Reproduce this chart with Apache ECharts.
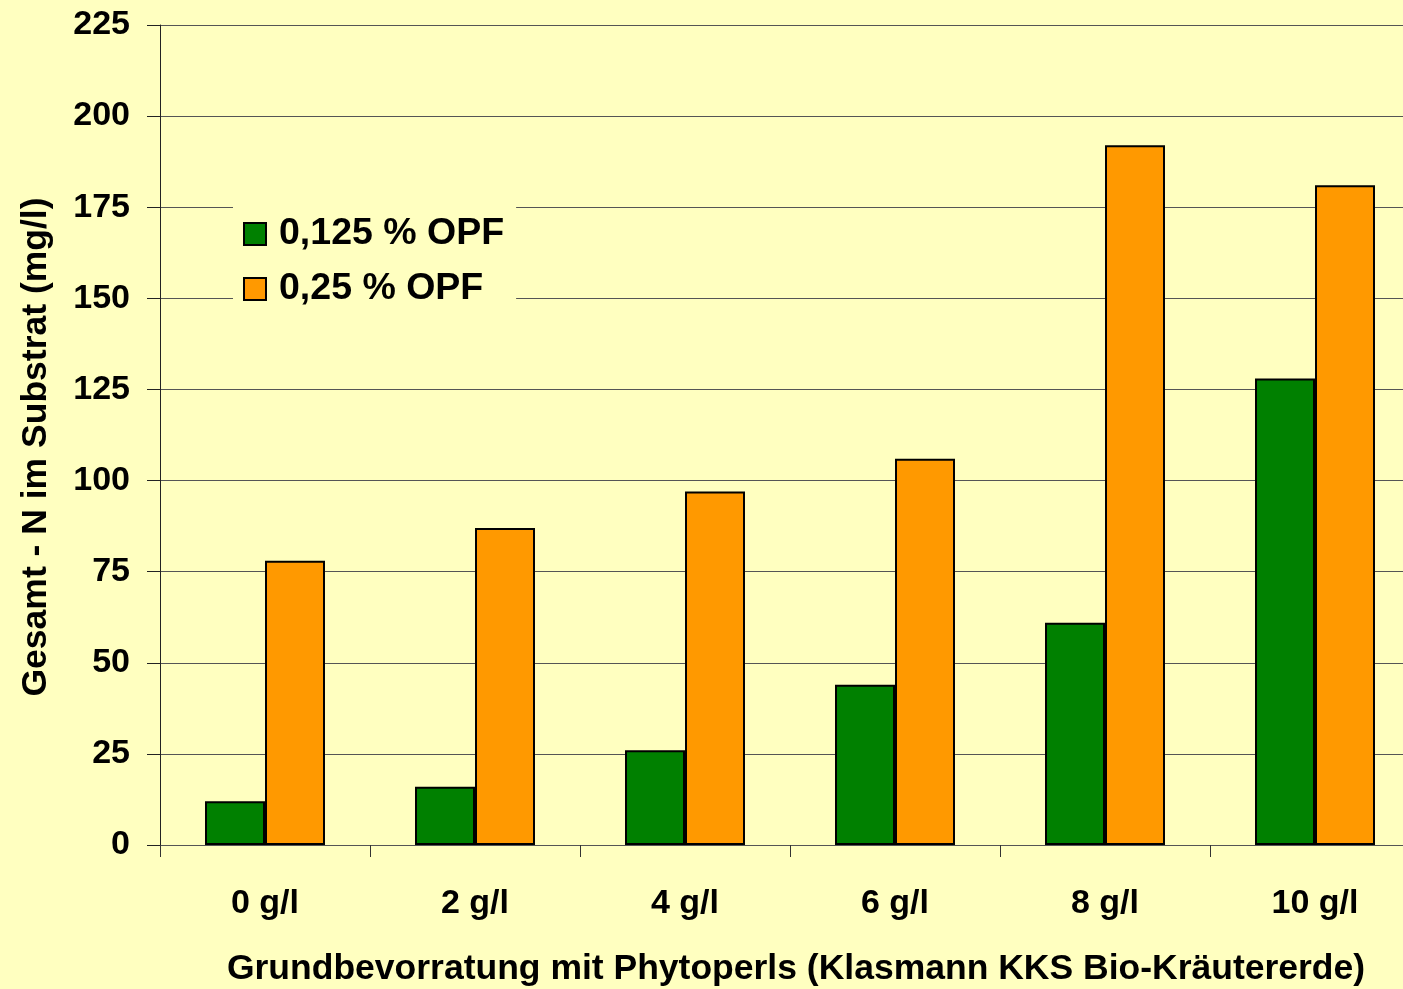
<!DOCTYPE html>
<html>
<head>
<meta charset="utf-8">
<script src="https://cdn.jsdelivr.net/npm/echarts@6/dist/echarts.min.js"></script>
<style>
  html, body { margin: 0; padding: 0; background: #FFFFC0; }
  #chart { width: 1403px; height: 989px; }
</style>
</head>
<body>
<div id="chart"></div>
<script>
// Gesamt-N im Substrat je Grundbevorratung mit Phytoperls
const categories = ['0 g/l', '2 g/l', '4 g/l', '6 g/l', '8 g/l', '10 g/l'];
const seriesNames = ['0,125 % OPF', '0,25 % OPF'];
const opf0125 = [12, 16, 26, 44, 61, 128];
const opf025 = [78, 87, 97, 106, 192, 181];
const yTicks = { min: 0, max: 225, interval: 25 };

const FONT = 'Liberation Sans, Arial, sans-serif';
const chart = echarts.init(document.getElementById('chart'), null, { renderer: 'canvas' });

chart.setOption({
  backgroundColor: '#FFFFC0',
  animation: false,
  textStyle: { fontFamily: FONT, color: '#000' },
  grid: { left: 160, top: 25, right: -17, bottom: 144, containLabel: false, outerBoundsMode: 'none' },
  legend: {
    orient: 'vertical',
    left: 233,
    top: 205,
    padding: [10, 12, 8, 10],
    backgroundColor: '#FFFFC0',
    itemWidth: 22,
    itemHeight: 22,
    itemGap: 17,
    icon: 'rect',
    itemStyle: { borderColor: '#000', borderWidth: 2 },
    textStyle: { fontSize: 37.5, fontWeight: 'bold', fontFamily: FONT, color: '#000', padding: [0, 0, 0, 8] },
    data: seriesNames
  },
  xAxis: {
    type: 'category',
    data: categories,
    boundaryGap: true,
    name: 'Grundbevorratung mit Phytoperls (Klasmann KKS Bio-Kräutererde)',
    nameLocation: 'middle',
    nameGap: 106,
    nameTextStyle: { fontSize: 35.5, fontWeight: 'bold', fontFamily: FONT, color: '#000', padding: [0, 0, 0, 12] },
    axisLine: { lineStyle: { color: '#555', width: 1 } },
    axisTick: { show: true, length: 12, lineStyle: { color: '#333' } },
    axisLabel: { fontSize: 34, fontWeight: 'bold', fontFamily: FONT, color: '#000', margin: 42 },
    splitLine: { show: false }
  },
  yAxis: {
    type: 'value',
    min: yTicks.min,
    max: yTicks.max,
    interval: yTicks.interval,
    name: 'Gesamt - N im Substrat (mg/l)',
    nameLocation: 'middle',
    nameGap: 106,
    nameRotate: 90,
    nameTextStyle: { fontSize: 35.5, fontWeight: 'bold', fontFamily: FONT, color: '#000', padding: [0, 24, 0, 0] },
    axisLine: { show: true, lineStyle: { color: '#222', width: 1 } },
    axisTick: { show: true, length: 13, lineStyle: { color: '#222' } },
    axisLabel: { fontSize: 34, fontWeight: 'bold', fontFamily: FONT, color: '#000', margin: 30 },
    splitLine: { show: true, lineStyle: { color: '#555', width: 1 } }
  },
  series: [
    {
      name: seriesNames[0],
      type: 'bar',
      data: opf0125,
      barWidth: 60,
      barGap: '0%',
      itemStyle: { color: '#008000', borderColor: '#000', borderWidth: 2 }
    },
    {
      name: seriesNames[1],
      type: 'bar',
      data: opf025,
      barWidth: 60,
      barGap: '0%',
      itemStyle: { color: '#FF9900', borderColor: '#000', borderWidth: 2 }
    }
  ]
});
</script>
</body>
</html>
